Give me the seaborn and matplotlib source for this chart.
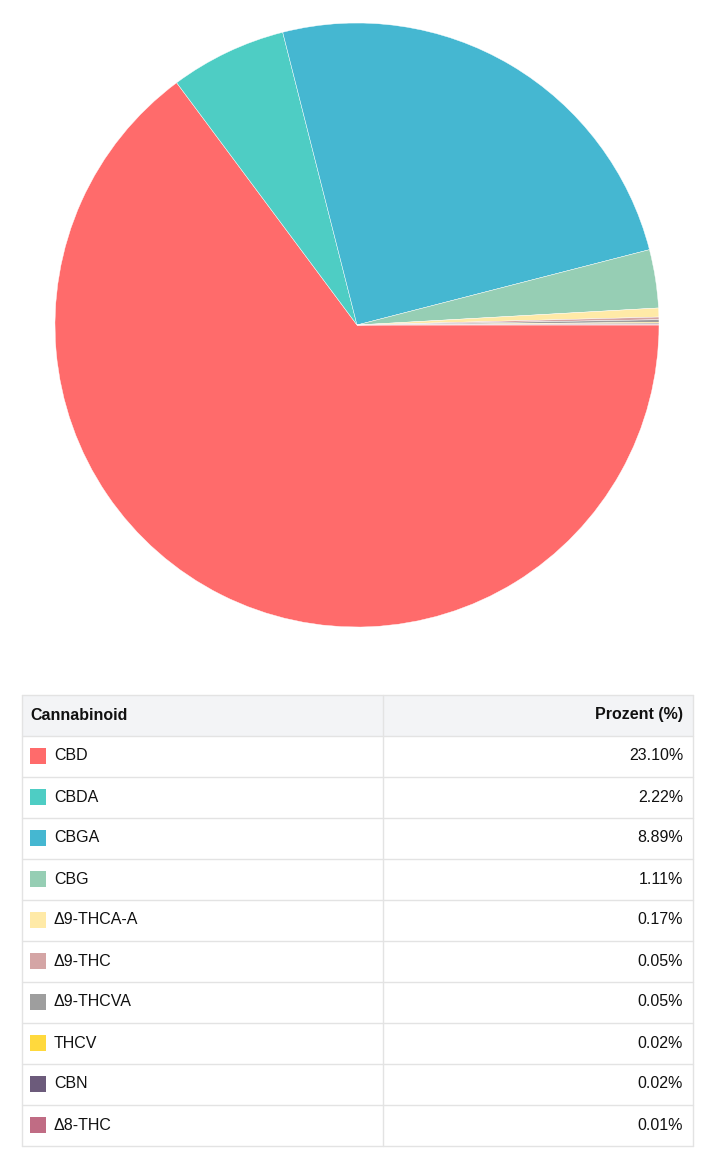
import matplotlib
matplotlib.use("Agg")
import matplotlib.pyplot as plt
from matplotlib.patches import Rectangle
import seaborn as sns

sns.set_theme(style="white")
plt.rcParams['font.family'] = ['Liberation Sans', 'DejaVu Sans']

names = ["CBD", "CBDA", "CBGA", "CBG", "Δ9-THCA-A", "Δ9-THC", "Δ9-THCVA", "THCV", "CBN", "Δ8-THC"]
values = [23.10, 2.22, 8.89, 1.11, 0.17, 0.05, 0.05, 0.02, 0.02, 0.01]
colors = ["#FF6B6B", "#4ECDC4", "#45B7D1", "#96CEB4", "#FFEAA7", "#D4A5A5", "#9E9E9E", "#FFD93D", "#6C5B7B", "#C06C84"]
header = ["Cannabinoid", "Prozent (%)"]

W, H = 708, 1152
fig = plt.figure(figsize=(W / 100, H / 100), dpi=100)
fig.patch.set_facecolor("white")

# Pie
cx, cy, r = 357, 325, 302
axp = fig.add_axes([(cx - r) / W, (H - cy - r) / H, 2 * r / W, 2 * r / H])
axp.pie(values, colors=colors, startangle=0, counterclock=False,
        wedgeprops=dict(edgecolor="white", linewidth=0.3))
axp.set_xlim(-1.0, 1.0)
axp.set_ylim(-1.0, 1.0)
axp.set_aspect("equal")
axp.axis("off")

# Table
axt = fig.add_axes([0, 0, 1, 1])
axt.set_xlim(0, W)
axt.set_ylim(H, 0)
axt.axis("off")

x0, x1, xm = 21.5, 692.5, 382.5
y0, rh = 694.5, 41
border = "#E3E3E3"
nrows = len(names) + 1

axt.add_patch(Rectangle((x0, y0), x1 - x0, rh, facecolor="#F3F4F6", edgecolor="none"))
for i in range(nrows + 1):
    axt.plot([x0, x1], [y0 + i * rh, y0 + i * rh], color=border, lw=1)
axt.plot([x0, x0], [y0, y0 + nrows * rh], color=border, lw=1)
axt.plot([x1, x1], [y0, y0 + nrows * rh], color=border, lw=1)
axt.plot([xm, xm], [y0, y0 + nrows * rh], color=border, lw=1)

fs = 11.5
axt.text(30, y0 + rh / 2, header[0], ha="left", va="center", fontsize=fs, fontweight="bold", color="#111111")
axt.text(683, y0 + rh / 2, header[1], ha="right", va="center", fontsize=fs, fontweight="bold", color="#111111")

for i, (n, v, c) in enumerate(zip(names, values, colors)):
    yc = y0 + (i + 1) * rh + rh / 2
    axt.add_patch(Rectangle((30, yc - 8), 16, 16, facecolor=c, edgecolor="none"))
    axt.text(54, yc, n, ha="left", va="center", fontsize=fs, color="#111111")
    axt.text(683, yc, f"{v:.2f}%", ha="right", va="center", fontsize=fs, color="#111111")

fig.savefig("out.png", dpi=100, facecolor="white")
